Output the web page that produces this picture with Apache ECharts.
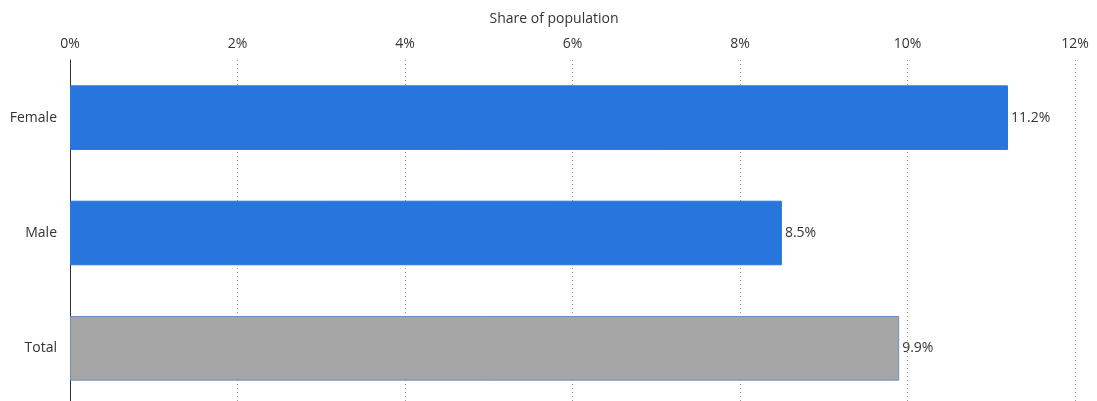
<!DOCTYPE html>
<html><head><meta charset="utf-8">
<script src="https://cdn.jsdelivr.net/npm/echarts@6/dist/echarts.min.js"></script>
<style>html,body{margin:0;padding:0;background:#fff}#c{width:1097px;height:401px}</style>
</head><body><div id="c"></div>
<script>
const categories = ['Female', 'Male', 'Total'];
const values = [11.2, 8.5, 9.9];
const barColors = ['#2876dd', '#2876dd', '#a6a6a6'];
const tickMax = 12;
const tickStep = 2;

const chart = echarts.init(document.getElementById('c'), null, {renderer: 'canvas'});
const font = '"Open Sans", "Noto Sans", sans-serif';
chart.setOption({
  animation: false,
  title: {text: 'Share of population', left: 549, top: 7, textAlign: 'center',
    textStyle: {color: '#333', fontSize: 14, fontWeight: 'normal', fontFamily: font}},
  grid: {left: 70, right: 22, top: 60, height: 346, containLabel: false, outerBoundsMode: 'none'},
  xAxis: {
    type: 'value', position: 'top', min: 0, max: tickMax, interval: tickStep,
    axisLine: {show: false}, axisTick: {show: false},
    axisLabel: {formatter: '{value}%', color: '#333', fontSize: 14, fontFamily: font, margin: 9},
    splitLine: {show: true, lineStyle: {color: '#999', type: [1, 3], width: 1}}
  },
  yAxis: {
    type: 'category', data: categories, inverse: true,
    axisLine: {show: true, lineStyle: {color: '#333', width: 1}},
    axisTick: {show: false},
    axisLabel: {color: '#333', fontSize: 14, fontFamily: font, margin: 13}
  },
  series: [{
    type: 'bar', barWidth: '56%',
    data: values.map((v, i) => ({
      value: v,
      itemStyle: {color: barColors[i], borderColor: i === 2 ? '#6b8fc4' : barColors[i], borderWidth: 1}
    })),
    label: {show: true, position: 'right', distance: 3, formatter: p => p.value + '%',
      color: '#333', fontSize: 14, fontFamily: font}
  }]
});
</script></body></html>
